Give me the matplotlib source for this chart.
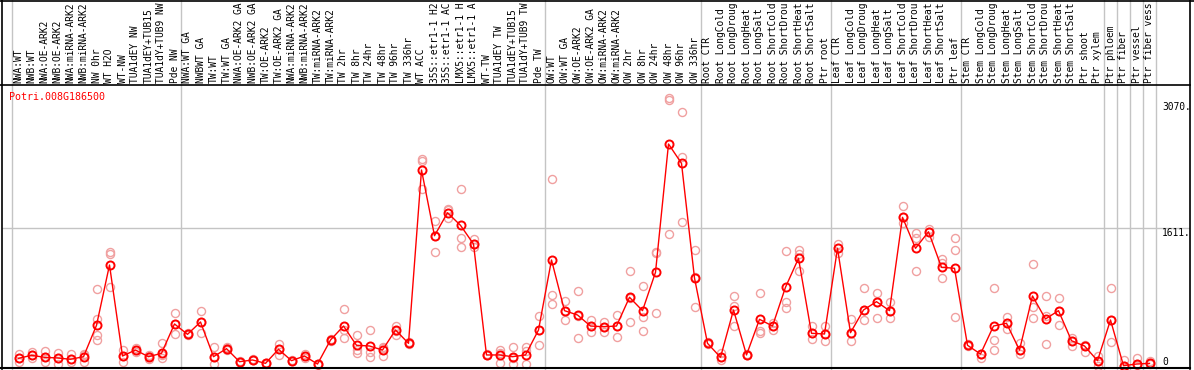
import matplotlib
matplotlib.use('Agg')
import matplotlib.pyplot as plt
from matplotlib.transforms import blended_transform_factory
from matplotlib.lines import Line2D

gene = "Potri.008G186500"

labels = [
    "NWA:WT", "NWB:WT", "NWA:OE-ARK2", "NWB:OE-ARK2", "NWA:miRNA-ARK2", "NWB:miRNA-ARK2",
    "NW 0hr", "WT H2O", "WT-NW", "TUA1dEY NW", "TUA1dEY+TUB15", "TUA1dY+TUB9 NW", "Pde NW",
    "NWA:WT GA", "NWBWT GA", "TW:WT", "TW:WT GA", "NWA:OE-ARK2 GA", "NWB:OE-ARK2 GA",
    "TW:OE-ARK2", "TW:OE-ARK2 GA", "NWA:miRNA-ARK2", "NWB:miRNA-ARK2", "TW:miRNA-ARK2",
    "TW:miRNA-ARK2", "TW 2hr", "TW 8hr", "TW 24hr", "TW 48hr", "TW 96hr", "TW 336hr",
    "WT ACC", "35S::etr1-1 H2", "35S::etr1-1 AC", "LMX5::etr1-1 H", "LMX5::etr1-1 A",
    "WT-TW", "TUA1dEY TW", "TUA1dEY+TUB15", "TUA1dY+TUB9 TW", "Pde TW",
    "OW:WT", "OW:WT GA", "OW:OE-ARK2", "OW:OE-ARK2 GA", "OW:miRNA-ARK2", "OW:miRNA-ARK2",
    "OW 2hr", "OW 8hr", "OW 24hr", "OW 48hr", "OW 96hr", "OW 336hr",
    "Root CTR", "Root LongCold", "Root LongDroug", "Root LongHeat", "Root LongSalt",
    "Root ShortCold", "Root ShortDrou", "Root ShortHeat", "Root ShortSalt", "Ptr root",
    "Leaf CTR", "Leaf LongCold", "Leaf LongDroug", "Leaf LongHeat", "Leaf LongSalt",
    "Leaf ShortCold", "Leaf ShortDrou", "Leaf ShortHeat", "Leaf ShortSalt", "Ptr leaf",
    "Stem CTR", "Stem LongCold", "Stem LongDroug", "Stem LongHeat", "Stem LongSalt",
    "Stem ShortCold", "Stem ShortDrou", "Stem ShortHeat", "Stem ShortSalt", "Ptr shoot",
    "Ptr xylem", "Ptr phloem", "Ptr fiber", "Ptr vessel", "Ptr fiber vess",
]

means = [
    105, 140, 117, 109, 94, 124, 487, 1186, 132, 201, 124, 163, 503,
    383, 526, 124, 217, 66, 86, 47, 210, 78, 132, 39, 317, 479, 256, 248, 201, 433, 279,
    2286, 1525, 1791, 1645, 1429, 144, 144, 124, 144, 433,
    1244, 657, 607, 479, 471, 479, 812, 657, 1101, 2587, 2363, 1035,
    279, 117, 665, 144, 557, 479, 928, 1263, 395, 387,
    1379, 402, 665, 761, 657, 1738, 1379, 1571, 1159, 1148,
    256, 155, 479, 511, 201, 827, 561, 657, 309, 248, 78,
    549, 20, 39, 47,
]

replicates = [
    [155, 63, 109], [182, 109, 144], [193, 66, 120], [170, 39, 109], [155, 66, 97],
    [155, 66, 144], [904, 560, 375, 317], [1333, 1310, 927], [201, 66, 132], [221, 182, 201],
    [144, 94, 132], [279, 105, 144], [626, 383, 503],
    [395, 370, 383], [653, 395, 526], [240, 39, 120], [221, 236, 200], [66, 60, 75],
    [86, 80, 95], [47, 40, 55], [271, 144, 210], [78, 70, 90], [152, 110, 132],
    [39, 30, 45], [317, 310, 325], [673, 337, 430], [372, 201, 170], [433, 182, 117],
    [240, 132, 220], [479, 375, 420], [279, 270, 290], [2410, 2390, 2062],
    [1699, 1340, 1525], [1830, 1822, 1730], [2062, 1495, 1391], [1483, 1394, 1430],
    [144, 150, 140], [201, 170, 54], [233, 109, 39], [233, 190, 39], [595, 259, 433],
    [2181, 838, 734], [772, 549, 650], [885, 344, 590], [549, 413, 479], [529, 413, 471],
    [607, 356, 479], [1116, 526, 800], [943, 580, 425], [1340, 1330, 633],
    [3116, 3096, 1545], [2961, 2440, 1687], [1359, 703, 1043],
    [279, 290, 270], [170, 86, 117], [827, 479, 711], [144, 150, 140], [865, 402, 420],
    [511, 433, 479], [1351, 761, 684], [1359, 1120, 1310], [479, 325, 395], [479, 309, 387],
    [1429, 1328, 1379], [557, 309, 402], [916, 549, 665], [865, 569, 761], [761, 569, 657],
    [1868, 1676, 1738], [1553, 1495, 1120], [1600, 1507, 1571], [1252, 1212, 1032],
    [1495, 1359, 584],
    [256, 270, 245], [105, 155, 160], [916, 317, 201], [587, 441, 511], [286, 155, 201],
    [1197, 696, 569], [827, 595, 267], [800, 491, 657], [337, 248, 309], [248, 182, 260],
    [132, 20, 78],
    [916, 298, 549], [86, 20, 15], [105, 39, 30], [78, 47, 40],
]

group_bounds = [0, 13, 41, 53, 63, 73, 84, 85, 86, 87, 88]
ytick_values = [0, 1611, 3070]
ytick_labels = ["0", "1611.", "3070."]

# ---------------------------------------------------------------
W, H = 1194, 370
fig = plt.figure(figsize=(W / 100, H / 100), dpi=100)
fig.patch.set_facecolor('white')

def fx(px):
    return px / W

def fy(py):
    return 1 - py / H

P_LEFT, P_RIGHT, P_TOP, P_BOTTOM = 2, 1190, 85, 368.7
ax = fig.add_axes([fx(P_LEFT), fy(P_BOTTOM), (P_RIGHT - P_LEFT) / W, (P_BOTTOM - P_TOP) / H])
ax.set_xlim((P_LEFT - 18.5) / 13, (P_RIGHT - 18.5) / 13)
ax.set_ylim(-15, 3270)
ax.axis('off')

MONO = 'DejaVu Sans Mono'
FS = 7.2
LFS = 6.9
GRAY = '#c4c4c4'
PINK = '#f0a0a0'

# group separators (span label area too)
ext = (P_BOTTOM - 0) / (P_BOTTOM - P_TOP)
for k in group_bounds:
    ax.axvline(k - 0.5, ymin=0, ymax=ext, color=GRAY, lw=1.0, clip_on=False, zorder=1)

# horizontal gridline
ax.axhline(ytick_values[1], color=GRAY, lw=1.0, zorder=1)

# replicates
rx, ry = [], []
for i, reps in enumerate(replicates):
    for v in reps:
        rx.append(i)
        ry.append(v)
ax.plot(rx, ry, linestyle='none', marker='o', mfc='none', mec=PINK, ms=5.8, mew=1.0, zorder=2)

# means
ax.plot(range(len(means)), means, color='red', lw=1.0, marker='o', mfc='none',
        mec='red', ms=5.8, mew=1.4, zorder=3)

# labels
trans = blended_transform_factory(ax.transData, fig.transFigure)
for i, lab in enumerate(labels):
    ax.text(i, fy(83), lab, rotation=90, ha='center', va='bottom', fontsize=LFS,
            family=MONO, transform=trans, clip_on=False, color='black')

# y labels on the right, inside the frame
ytr = ax.get_yaxis_transform()
xlab = (1162 - P_LEFT) / (P_RIGHT - P_LEFT)
for v, t in zip(ytick_values, ytick_labels):
    ax.text(xlab, v, t, ha='left', va=('bottom' if v == 0 else 'top'), fontsize=LFS,
            family=MONO, transform=ytr, color='black')

# gene name
fig.text(fx(9.3), fy(97.3), gene, color='red', fontsize=FS, family=MONO,
         ha='left', va='center')

# frame lines
def fline(x0, y0, x1, y1, lw=1.2):
    fig.add_artist(Line2D([fx(x0), fx(x1)], [fy(y0), fy(y1)], color='black', lw=lw,
                          transform=fig.transFigure, zorder=10))

fline(0, 0.7, W, 0.7)
fline(1.7, 0, 1.7, 369)
fline(P_RIGHT, 0, P_RIGHT, 369)
fline(0, P_TOP, P_RIGHT, P_TOP)
fline(0, 368.0, P_RIGHT, 368.0, lw=1.5)

fig.savefig('out.png', dpi=100, facecolor='white')
